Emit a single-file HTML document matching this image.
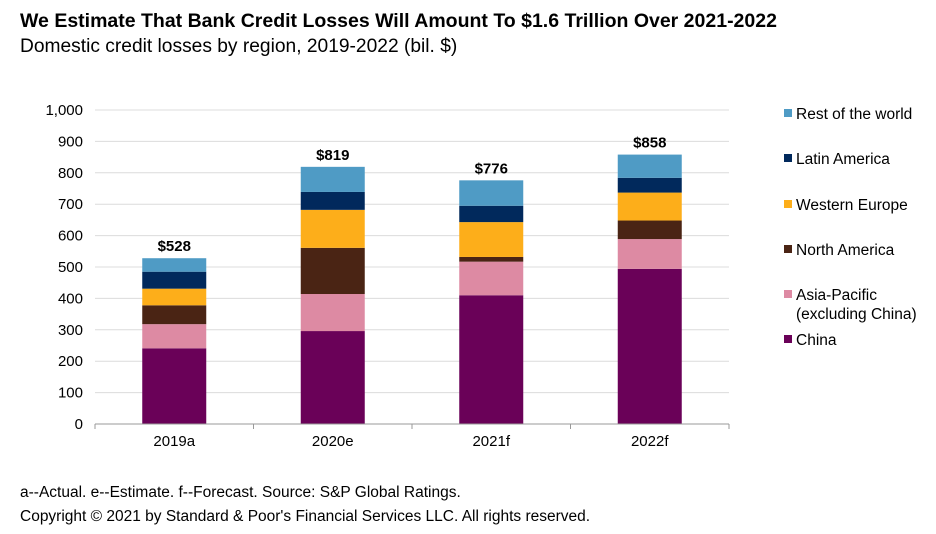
<!DOCTYPE html>
<html><head><meta charset="utf-8"><style>
body{margin:0;background:#fff;font-family:"Liberation Sans",Arial,sans-serif;}
#wrap{position:relative;width:936px;height:534px;overflow:hidden;}
</style></head><body>
<div id="wrap">
<svg id="chart" width="936" height="534" style="position:absolute;left:0;top:0"></svg>
</div>
<script>
const categories=["2019a","2020e","2021f","2022f"];
const seriesNames=["China","Asia-Pacific (excluding China)","North America","Western Europe","Latin America","Rest of the world"];
const china=[241,296,410,494];
const asiaPacific=[77,118,107,95];
const northAmerica=[60,147,15,59];
const westernEurope=[53,121,111,89];
const latinAmerica=[54,57,52,47];
const restOfWorld=[43,80,81,74];
const totals=["$528","$819","$776","$858"];
const yTicks=[0,100,200,300,400,500,600,700,800,900,1000];
const colors=["#6a0158","#dd8aa3","#4a2414","#fdae1a","#01295c","#4f9bc5"];
const series=[china,asiaPacific,northAmerica,westernEurope,latinAmerica,restOfWorld];
const NS="http://www.w3.org/2000/svg";
const svg=document.getElementById('chart');
const x0=95,x1=729,y0=424,yTop=110,ymax=1000;
const yS=v=>y0-(v/ymax)*(y0-yTop);
const cw=(x1-x0)/categories.length;
const xC=i=>x0+cw*(i+0.5);
const bw=64;
function mk(t,a,txt){const e=document.createElementNS(NS,t);for(const k in a)e.setAttribute(k,a[k]);if(txt!==undefined)e.textContent=txt;svg.appendChild(e);return e;}
let e;
e=mk('text',{x:20,y:27,'font-size':19.5,'font-weight':'bold',fill:'#000'},"We Estimate That Bank Credit Losses Will Amount To $1.6 Trillion Over 2021-2022");


e=mk('text',{x:20,y:52,'font-size':19.2,fill:'#000'},"Domestic credit losses by region, 2019-2022 (bil. $)");


yTicks.forEach(t=>{
  if(t>0){e=mk('line',{x1:x0,x2:x1,y1:yS(t),y2:yS(t),stroke:'#dcdcdc','stroke-width':1});
  
  }
  e=mk('text',{x:83,y:yS(t)+5,'font-size':15,'text-anchor':'end',fill:'#000'},t.toLocaleString('en-US'));
  
  
});
categories.forEach((c,i)=>{
  let cum=0;
  series.forEach((s,j)=>{
    const v=s[i];
    e=mk('rect',{x:xC(i)-bw/2,y:yS(cum+v),width:bw,height:yS(cum)-yS(cum+v),fill:colors[j]});
    
    
    cum+=v;
  });
  e=mk('text',{x:xC(i),y:yS(cum)-7,'font-size':15,'font-weight':'bold','text-anchor':'middle',fill:'#000'},totals[i]);
  
  
  e=mk('text',{x:xC(i),y:446,'font-size':15,'text-anchor':'middle',fill:'#000'},c);
  
  
});
e=mk('line',{x1:x0,x2:x1,y1:y0,y2:y0,stroke:'#999','stroke-width':1});


for(let i=0;i<=categories.length;i++){
  e=mk('line',{x1:x0+cw*i,x2:x0+cw*i,y1:y0,y2:y0+5,stroke:'#999','stroke-width':1});
  
  
}
const legendY=[114,159,205,250,295,340];
const legendLabels=[["Rest of the world"],["Latin America"],["Western Europe"],["North America"],["Asia-Pacific","(excluding China)"],["China"]];
const legendColors=[colors[5],colors[4],colors[3],colors[2],colors[1],colors[0]];
legendLabels.forEach((lab,k)=>{
  e=mk('rect',{x:784,y:legendY[k]-5,width:8,height:8,fill:legendColors[k]});
  
  
  lab.forEach((l,m)=>{
    e=mk('text',{x:796,y:legendY[k]+5+m*19,'font-size':15.5,fill:'#000'},l);
    
    
  });
});
e=mk('text',{x:20,y:497,'font-size':15.5,fill:'#000'},"a--Actual. e--Estimate. f--Forecast. Source: S&P Global Ratings.");


e=mk('text',{x:20,y:521,'font-size':15.5,fill:'#000'},"Copyright © 2021 by Standard & Poor's Financial Services LLC. All rights reserved.");


</script>
</body></html>
